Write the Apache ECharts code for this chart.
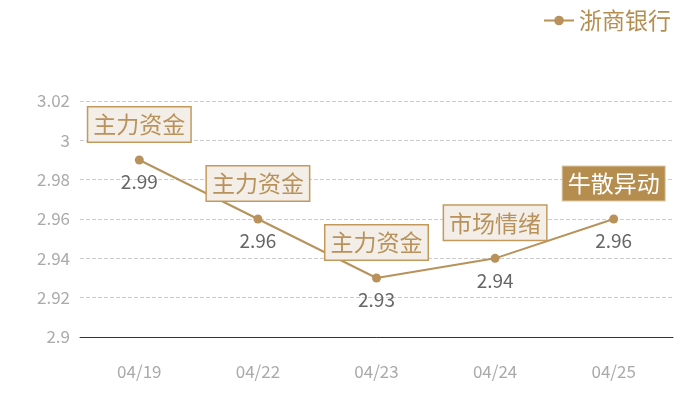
<!DOCTYPE html>
<html><head><meta charset="utf-8">
<script src="https://cdn.jsdelivr.net/npm/echarts@6/dist/echarts.min.js"></script>
<style>html,body{margin:0;padding:0;background:#fff}#c{width:700px;height:400px}</style>
</head><body><div id="c"></div>
<script>
const categories = ['04/19','04/22','04/23','04/24','04/25'];
const values = [2.99, 2.96, 2.93, 2.94, 2.96];
const tags = ['主力资金','主力资金','主力资金','市场情绪','牛散异动'];
const highlighted = [false,false,false,false,true];

const gold = '#b8925a';
const font = '"Noto Sans CJK SC", "Noto Sans", sans-serif';
const chart = echarts.init(document.getElementById('c'));

const tagData = values.map((v,i)=>({
  value: v,
  label: highlighted[i] ? {backgroundColor:'#b58d4f', color:'#fff', borderColor:'#dcc7a4', borderWidth:1} : {}
}));

chart.setOption({
  animation:false,
  textStyle:{fontFamily:font},
  legend:{
    right:24, top:4, itemWidth:30, itemHeight:12, itemGap:6,
    textStyle:{color:'#b58d4f', fontSize:23, fontFamily:font},
    data:['浙商银行']
  },
  grid:{left:80, right:27, top:101, bottom:63},
  xAxis:{
    type:'category', data:categories, boundaryGap:true,
    axisLine:{lineStyle:{color:'#333'}},
    axisTick:{show:false},
    axisLabel:{color:'#aaa', fontSize:17, margin:26, fontFamily:font}
  },
  yAxis:{
    type:'value', min:2.9, max:3.02, interval:0.02,
    axisLine:{show:false}, axisTick:{show:false},
    axisLabel:{color:'#aaa', fontSize:17, margin:10, fontFamily:font,
      formatter:v=>String(Math.round(v*100)/100)},
    splitLine:{lineStyle:{color:'#ccc', type:'dashed'}}
  },
  series:[
    {
      name:'浙商银行', type:'line', data:values,
      symbol:'circle', symbolSize:9,
      itemStyle:{color:gold},
      lineStyle:{color:gold, width:2},
      label:{show:true, position:'bottom', distance:8, color:'#666', fontSize:19, fontFamily:font,
        formatter:p=>p.value.toFixed(2)}
    },
    {
      name:'tags', type:'scatter', data:tagData,
      symbol:'circle', symbolSize:1, itemStyle:{color:'transparent', opacity:1}, silent:true,
      label:{show:true, position:'top', distance:18, opacity:1,
        formatter:p=>tags[p.dataIndex],
        color:'#b8925a', fontSize:23, lineHeight:24, fontFamily:font,
        backgroundColor:'#f3eee7', borderColor:'#c49a5c', borderWidth:1.5,
        padding:[5,5,5,5]},
      z:5
    }
  ]
});
</script></body></html>
